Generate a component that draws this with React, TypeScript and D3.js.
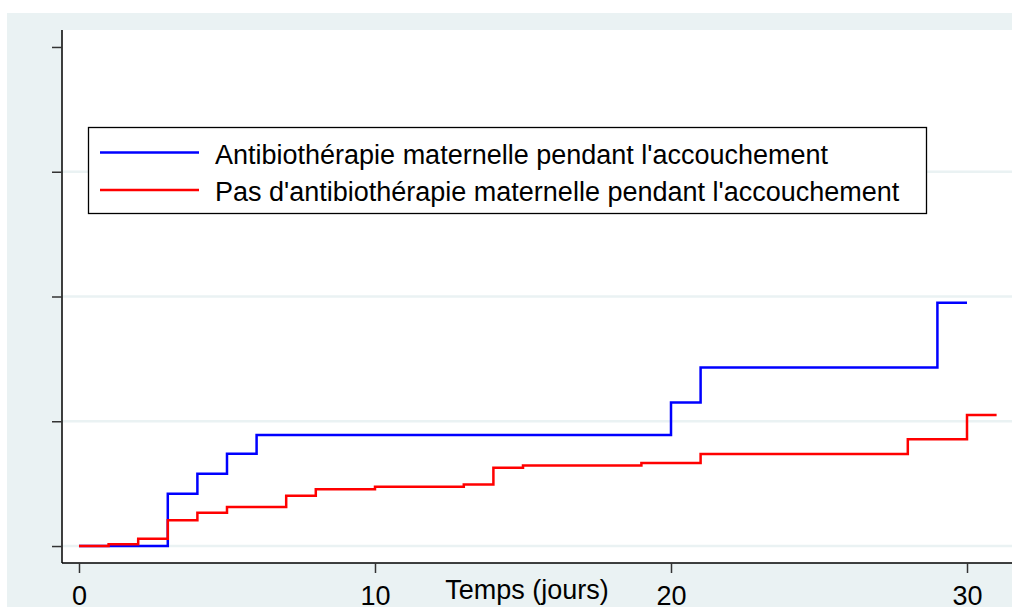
import React, { useEffect, useRef } from 'react';
import * as d3 from 'd3';

// Cumulative incidence (step curves)
const blueTimes = [0, 3, 4, 5, 6, 20, 21, 29, 30];
const blueValues = [0, 0.021, 0.029, 0.037, 0.0445, 0.0575, 0.0715, 0.0975, 0.0975];

const redTimes = [0, 1, 2, 3, 4, 5, 7, 8, 10, 13, 14, 15, 19, 21, 28, 30, 31];
const redValues = [0, 0.0007, 0.0029, 0.0103, 0.0133, 0.0156, 0.0202, 0.0228, 0.0238, 0.0247, 0.0314, 0.0323, 0.0333, 0.0369, 0.0428, 0.0525, 0.0525];

const xTicks = [0, 10, 20, 30];
const yTicks = [0, 0.05, 0.1, 0.15, 0.2];
const gridTicks = [0, 0.05, 0.1, 0.15];

const legendLabels = [
  "Antibiothérapie maternelle pendant l'accouchement",
  "Pas d'antibiothérapie maternelle pendant l'accouchement",
];
const seriesColors = ['#0000ff', '#ff0000'];
const xTitle = 'Temps (jours)';

const App: React.FC = () => {
  const svgRef = useRef<SVGSVGElement>(null);

  useEffect(() => {
    if (!svgRef.current) return;
    const svg = d3.select(svgRef.current);
    svg.selectAll('*').remove();

    const W = 1012, H = 607;
    const plot = { left: 62, right: 1012, top: 30, bottom: 563 };
    const font = "'Liberation Sans', Arial, sans-serif";
    const bg = '#eaf2f3';

    const x = d3.scaleLinear().domain([-0.574, 31.52]).range([plot.left, plot.right]);
    const y = d3.scaleLinear().domain([-0.0068, 0.2068]).range([plot.bottom, plot.top]);

    // outer background + plot region
    svg.append('rect').attr('x', 0).attr('y', 0).attr('width', W).attr('height', H).attr('fill', '#fff');
    svg.append('rect').attr('x', 7).attr('y', 13).attr('width', W - 7).attr('height', H - 13).attr('fill', bg);
    svg.append('rect')
      .attr('x', plot.left).attr('y', plot.top)
      .attr('width', plot.right - plot.left).attr('height', plot.bottom - plot.top)
      .attr('fill', '#fff');

    // Grid lines
    svg.append('g')
      .selectAll('line')
      .data(gridTicks)
      .join('line')
      .attr('x1', plot.left).attr('x2', plot.right)
      .attr('y1', d => y(d)).attr('y2', d => y(d))
      .attr('stroke', bg).attr('stroke-width', 2.5);

    // Y axis (no labels)
    const yAxis = svg.append('g')
      .attr('transform', `translate(${plot.left},0)`)
      .call(d3.axisLeft(y).tickValues(yTicks).tickSize(10).tickSizeOuter(0).tickFormat(() => ''));
    yAxis.select('.domain').attr('stroke', '#000').attr('stroke-width', 1.5)
      .attr('d', `M0,${plot.top}V${plot.bottom}`);
    yAxis.selectAll('.tick line').attr('stroke', '#333').attr('stroke-width', 1.5);

    // X axis
    const xAxis = svg.append('g')
      .attr('transform', `translate(0,${plot.bottom})`)
      .call(d3.axisBottom(x).tickValues(xTicks).tickSize(10).tickSizeOuter(0).tickPadding(0));
    xAxis.select('.domain').attr('stroke', '#000').attr('stroke-width', 1.5)
      .attr('d', `M${plot.left},0H${plot.right}`);
    xAxis.selectAll('.tick line').attr('stroke', '#333').attr('stroke-width', 1.5);
    xAxis.selectAll('.tick text')
      .attr('y', 42).attr('dy', null)
      .attr('fill', '#000').style('font-family', font).style('font-size', '27px');

    svg.append('text')
      .attr('x', 527).attr('y', 599)
      .attr('text-anchor', 'middle')
      .style('font-family', font).style('font-size', '27px')
      .attr('fill', '#000')
      .text(xTitle);

    // Step lines
    const line = d3.line<[number, number]>()
      .x(d => x(d[0]))
      .y(d => y(d[1]))
      .curve(d3.curveStepAfter);

    const series: [number, number][][] = [
      blueTimes.map((t, i) => [t, blueValues[i]]),
      redTimes.map((t, i) => [t, redValues[i]]),
    ];

    series.forEach((s, i) => {
      svg.append('path')
        .datum(s)
        .attr('d', line)
        .attr('fill', 'none')
        .attr('stroke', seriesColors[i])
        .attr('stroke-width', 2.5);
    });

    // Legend
    const legend = svg.append('g');
    legend.append('rect')
      .attr('x', 88.5).attr('y', 127.5).attr('width', 838).attr('height', 86)
      .attr('fill', '#fff').attr('stroke', '#000').attr('stroke-width', 1.3);

    const items = legend.selectAll('g.item')
      .data(legendLabels)
      .join('g')
      .attr('class', 'item')
      .attr('transform', (d, i) => `translate(0,${i * 37.5})`);

    items.append('line')
      .attr('x1', 100).attr('x2', 199)
      .attr('y1', 152.5).attr('y2', 152.5)
      .attr('stroke', (d, i) => seriesColors[i])
      .attr('stroke-width', 2.5);

    items.append('text')
      .attr('x', 215).attr('y', 163.5)
      .style('font-family', font).style('font-size', '27px')
      .attr('fill', '#000')
      .text(d => d);
  }, []);

  return (
    <div style={{ position: 'absolute', left: 0, top: 0 }}>
      <svg ref={svgRef} width={1012} height={607} style={{ display: 'block' }}></svg>
    </div>
  );
};

export default App;
